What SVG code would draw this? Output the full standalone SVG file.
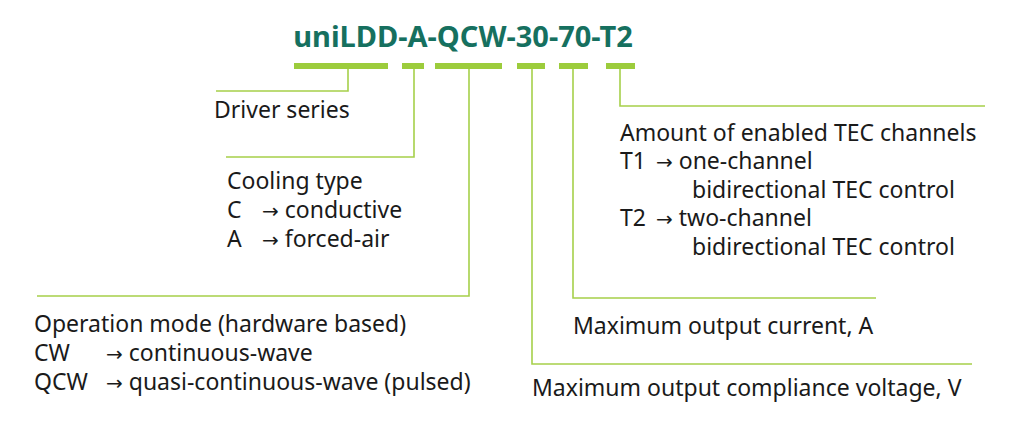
<svg xmlns="http://www.w3.org/2000/svg" width="1024" height="425" viewBox="0 0 1024 425">
<style>
.t{font-family:"Noto Sans","Open Sans",sans-serif;font-size:23px;fill:#1a1a1a}
.a{font-family:"DejaVu Sans",sans-serif;font-size:20px}
.bar{fill:#9ccc3c}
.ln{stroke:#a6d04a;stroke-width:1.6;fill:none}
</style>
<rect width="1024" height="425" fill="#fff"/>
<g id="title"><text x="463" y="47" text-anchor="middle" style="font-family:'Noto Sans','Open Sans',sans-serif;font-size:29px;font-weight:bold;fill:#16705f">uniLDD-A-QCW-30-70-T2</text></g>
<g id="bars">
<rect class="bar" x="294" y="63" width="94" height="6"/>
<rect class="bar" x="402" y="63" width="22" height="6"/>
<rect class="bar" x="435" y="63" width="67" height="6"/>
<rect class="bar" x="517" y="63" width="28" height="6"/>
<rect class="bar" x="559" y="63" width="29" height="6"/>
<rect class="bar" x="606" y="63" width="29" height="6"/>
</g>
<g id="connectors">
<path class="ln" d="M348 69V91H216"/>
<path class="ln" d="M414 69V157H226"/>
<path class="ln" d="M469 69V296H37"/>
<path class="ln" d="M532 69V364H972"/>
<path class="ln" d="M573 69V298H876"/>
<path class="ln" d="M620 69V106H985"/>
</g>
<g id="driver"><text class="t" x="214" y="118">Driver series</text></g>
<g id="cooling">
<text class="t" x="227" y="189">Cooling type</text>
<text class="t" x="227" y="218">C</text><text class="t" x="262" y="218"><tspan class="a">→</tspan> conductive</text>
<text class="t" x="227" y="247">A</text><text class="t" x="262" y="247"><tspan class="a">→</tspan> forced-air</text>
</g>
<g id="operation">
<text class="t" x="34" y="332">Operation mode (hardware based)</text>
<text class="t" x="34" y="361">CW</text><text class="t" x="106" y="361"><tspan class="a">→</tspan> continuous-wave</text>
<text class="t" x="34" y="390">QCW</text><text class="t" x="106" y="390"><tspan class="a">→</tspan> quasi-continuous-wave (pulsed)</text>
</g>
<g id="tec">
<text class="t" x="620" y="141">Amount of enabled TEC channels</text>
<text class="t" x="620" y="169">T1</text><text class="t" x="656" y="169"><tspan class="a">→</tspan> one-channel</text>
<text class="t" x="692" y="198">bidirectional TEC control</text>
<text class="t" x="620" y="226">T2</text><text class="t" x="656" y="226"><tspan class="a">→</tspan> two-channel</text>
<text class="t" x="692" y="255">bidirectional TEC control</text>
</g>
<g id="current"><text class="t" x="573" y="334">Maximum output current, A</text></g>
<g id="voltage"><text class="t" x="532" y="396">Maximum output compliance voltage, V</text></g>
</svg>
